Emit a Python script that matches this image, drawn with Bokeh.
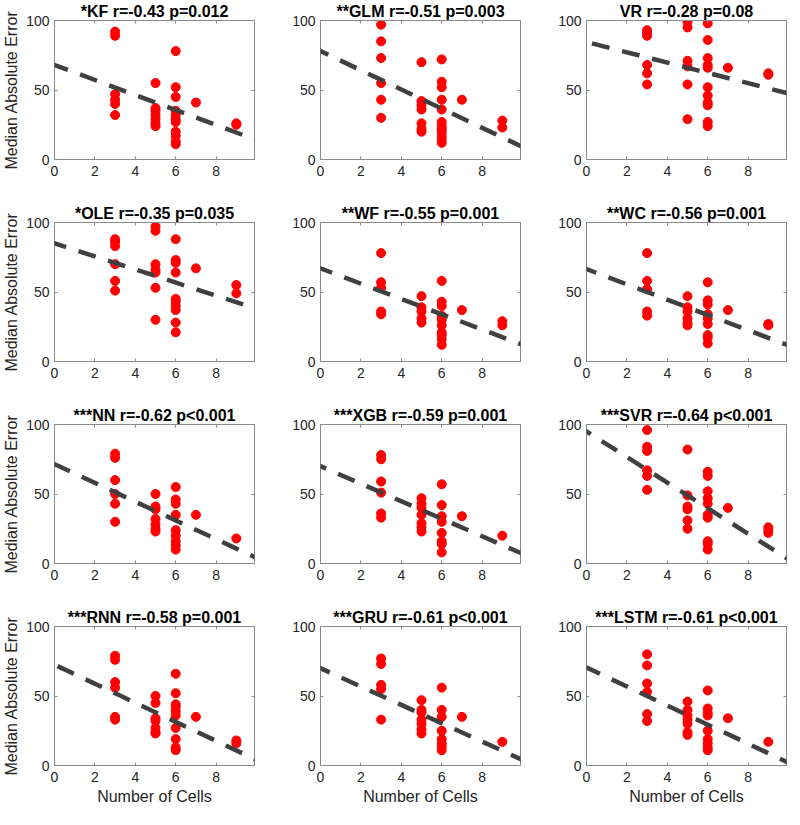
from bokeh.plotting import figure
from bokeh.layouts import column, row
from bokeh.models import Range1d, FixedTicker, LinearAxis, Slope
from bokeh.embed import file_html
from bokeh.resources import INLINE

# ---------------- data ----------------
titles = ["*KF r=-0.43 p=0.012", "**GLM r=-0.51 p=0.003", "VR r=-0.28 p=0.08",
          "*OLE r=-0.35 p=0.035", "**WF r=-0.55 p=0.001", "**WC r=-0.56 p=0.001",
          "***NN r=-0.62 p<0.001", "***XGB r=-0.59 p=0.001", "***SVR r=-0.64 p<0.001",
          "***RNN r=-0.58 p=0.001", "***GRU r=-0.61 p<0.001", "***LSTM r=-0.61 p<0.001"]

x_ticks = [0, 2, 4, 6, 8]
y_ticks = [0, 50, 100]

kf_cells = [3, 3, 3, 3, 3, 3, 5, 5, 5, 5, 5, 5, 5, 6, 6, 6, 6, 6, 6, 6, 6, 6, 6, 6, 7, 9, 9]
kf_mae = [92, 89, 47, 43, 40, 32, 55, 37, 35, 32, 29, 26, 24, 78, 52, 45, 35, 32, 29, 27, 20, 17, 13, 11, 41, 26, 25]

glm_cells = [3, 3, 3, 3, 3, 3, 5, 5, 5, 5, 5, 5, 5, 6, 6, 6, 6, 6, 6, 6, 6, 6, 6, 6, 6, 7, 9, 9]
glm_mae = [97, 85, 73, 55, 43, 30, 70, 42, 39, 36, 26, 22, 20, 72, 56, 52, 43, 36, 27, 24, 22, 20, 17, 15, 12, 43, 28, 23]

vr_cells = [3, 3, 3, 3, 3, 3, 5, 5, 5, 5, 5, 5, 6, 6, 6, 6, 6, 6, 6, 6, 6, 6, 6, 7, 9, 9]
vr_mae = [93, 91, 89, 68, 62, 54, 99, 95, 71, 67, 54, 29, 98, 86, 73, 68, 66, 52, 46, 41, 39, 27, 24, 66, 62, 61]

ole_cells = [3, 3, 3, 3, 3, 3, 5, 5, 5, 5, 5, 5, 5, 6, 6, 6, 6, 6, 6, 6, 6, 6, 6, 7, 9, 9]
ole_mae = [88, 86, 83, 70, 58, 51, 97, 94, 70, 66, 64, 53, 30, 88, 73, 71, 64, 45, 43, 40, 37, 28, 21, 67, 55, 49]

wf_cells = [3, 3, 3, 3, 3, 5, 5, 5, 5, 5, 6, 6, 6, 6, 6, 6, 6, 6, 6, 6, 7, 9, 9]
wf_mae = [78, 57, 53, 36, 34, 47, 39, 36, 31, 28, 58, 43, 40, 33, 30, 26, 21, 19, 16, 12, 37, 29, 26]

wc_cells = [3, 3, 3, 3, 3, 5, 5, 5, 5, 5, 5, 6, 6, 6, 6, 6, 6, 6, 6, 6, 7, 9, 9]
wc_mae = [78, 58, 52, 36, 33, 47, 39, 36, 31, 28, 26, 57, 44, 41, 34, 31, 27, 19, 17, 13, 37, 27, 26]

nn_cells = [3, 3, 3, 3, 3, 3, 5, 5, 5, 5, 5, 5, 5, 6, 6, 6, 6, 6, 6, 6, 6, 6, 7, 9]
nn_mae = [79, 76, 60, 50, 43, 30, 50, 41, 39, 32, 28, 25, 23, 55, 46, 43, 35, 24, 20, 16, 13, 10, 35, 18]

xgb_cells = [3, 3, 3, 3, 3, 3, 5, 5, 5, 5, 5, 5, 5, 6, 6, 6, 6, 6, 6, 6, 6, 7, 9]
xgb_mae = [78, 75, 59, 51, 36, 33, 47, 43, 40, 35, 29, 26, 23, 57, 42, 34, 30, 22, 16, 14, 8, 34, 20]

svr_cells = [3, 3, 3, 3, 3, 3, 5, 5, 5, 5, 5, 5, 6, 6, 6, 6, 6, 6, 6, 6, 6, 6, 7, 9, 9, 9]
svr_mae = [96, 84, 81, 67, 63, 53, 82, 49, 41, 39, 31, 25, 66, 63, 52, 47, 43, 35, 33, 16, 14, 10, 40, 26, 24, 22]

rnn_cells = [3, 3, 3, 3, 3, 3, 5, 5, 5, 5, 5, 5, 5, 6, 6, 6, 6, 6, 6, 6, 6, 6, 6, 7, 9, 9]
rnn_mae = [79, 76, 60, 56, 35, 33, 50, 45, 34, 32, 27, 24, 23, 66, 52, 44, 42, 39, 36, 27, 19, 13, 11, 35, 18, 16]

gru_cells = [3, 3, 3, 3, 3, 5, 5, 5, 5, 5, 5, 5, 6, 6, 6, 6, 6, 6, 6, 6, 7, 9]
gru_mae = [77, 73, 58, 55, 33, 47, 40, 38, 33, 30, 26, 23, 56, 40, 35, 25, 19, 16, 14, 11, 35, 17]

lstm_cells = [3, 3, 3, 3, 3, 3, 5, 5, 5, 5, 5, 5, 5, 6, 6, 6, 6, 6, 6, 6, 6, 6, 7, 9]
lstm_mae = [80, 72, 59, 53, 37, 32, 46, 40, 36, 33, 30, 24, 22, 54, 41, 38, 36, 25, 19, 16, 13, 11, 34, 17]

# fitted regression lines (intercept at 0 cells, slope per cell)
fit_intercepts = [68, 78, 84.5, 85, 67, 66.5, 71.5, 70, 95, 72.5, 70, 70.5]
fit_slopes = [-5.4, -6.9, -3.7, -4.7, -5.5, -5.5, -6.75, -6.3, -9.2, -6.85, -6.6, -6.85]

panels = [(kf_cells, kf_mae), (glm_cells, glm_mae), (vr_cells, vr_mae),
          (ole_cells, ole_mae), (wf_cells, wf_mae), (wc_cells, wc_mae),
          (nn_cells, nn_mae), (xgb_cells, xgb_mae), (svr_cells, svr_mae),
          (rnn_cells, rnn_mae), (gru_cells, gru_mae), (lstm_cells, lstm_mae)]

# ---------------- styling ----------------
FONT = "Liberation Sans"
AX = "#8a8a8a"
TXT = "#262626"


def make_panel(i, cells, mae):
    r, c = divmod(i, 3)
    p = figure(frame_width=200, frame_height=139,
               x_range=Range1d(0, 9.9), y_range=Range1d(0, 100),
               output_backend="svg", toolbar_location=None,
               min_border_left=49, min_border_right=(3 if c == 2 else 17),
               min_border_top=19, min_border_bottom=(45 if r == 3 else 43),
               title=titles[i])
    p.title.text_font = FONT
    p.title.text_font_size = "16px"
    p.title.text_font_style = "bold"
    p.title.text_color = "black"
    p.title.align = "center"
    p.title.standoff = 1
    p.xgrid.visible = False
    p.ygrid.visible = False
    p.outline_line_color = AX
    p.background_fill_color = "white"
    p.border_fill_color = "white"

    for ax, ticks in ((p.xaxis, x_ticks), (p.yaxis, y_ticks)):
        ax.ticker = FixedTicker(ticks=ticks)
        ax.major_tick_in = 3
        ax.major_tick_out = 0
        ax.minor_tick_line_color = None
        ax.axis_line_color = AX
        ax.major_tick_line_color = AX
        ax.major_label_text_font = FONT
        ax.major_label_text_font_size = "14px"
        ax.major_label_text_color = TXT
        ax.axis_label_text_font = FONT
        ax.axis_label_text_font_size = "16px"
        ax.axis_label_text_font_style = "normal"
        ax.axis_label_text_color = TXT
    p.xaxis.major_label_standoff = 6
    p.yaxis.major_label_standoff = 5
    p.yaxis.axis_label_standoff = 3
    p.xaxis.axis_label_standoff = 3

    if c == 0:
        p.yaxis.axis_label = "Median Absolute Error"
    if r == 3:
        p.xaxis.axis_label = "Number of Cells"

    # box ticks on the top and right edges (no labels)
    for loc, ticks in (("right", y_ticks), ("above", x_ticks)):
        extra = LinearAxis(ticker=FixedTicker(ticks=ticks),
                           major_label_text_font_size="1px",
                           major_label_text_color=None,
                           major_label_standoff=0,
                           major_tick_in=3, major_tick_out=0,
                           minor_tick_line_color=None,
                           axis_line_color=AX, major_tick_line_color=AX)
        p.add_layout(extra, loc)

    p.scatter(x=cells, y=mae, size=9, fill_color="#ff0000", line_color="#ff0000")
    p.add_layout(Slope(gradient=fit_slopes[i], y_intercept=fit_intercepts[i],
                       line_color="#404040", line_width=4.5, line_dash="18 13"))
    return p


figs = [make_panel(i, cx, my) for i, (cx, my) in enumerate(panels)]
layout = column(*[row(*figs[k:k + 3]) for k in range(0, 12, 3)])

open("out.html", "w").write(file_html(layout, INLINE))
